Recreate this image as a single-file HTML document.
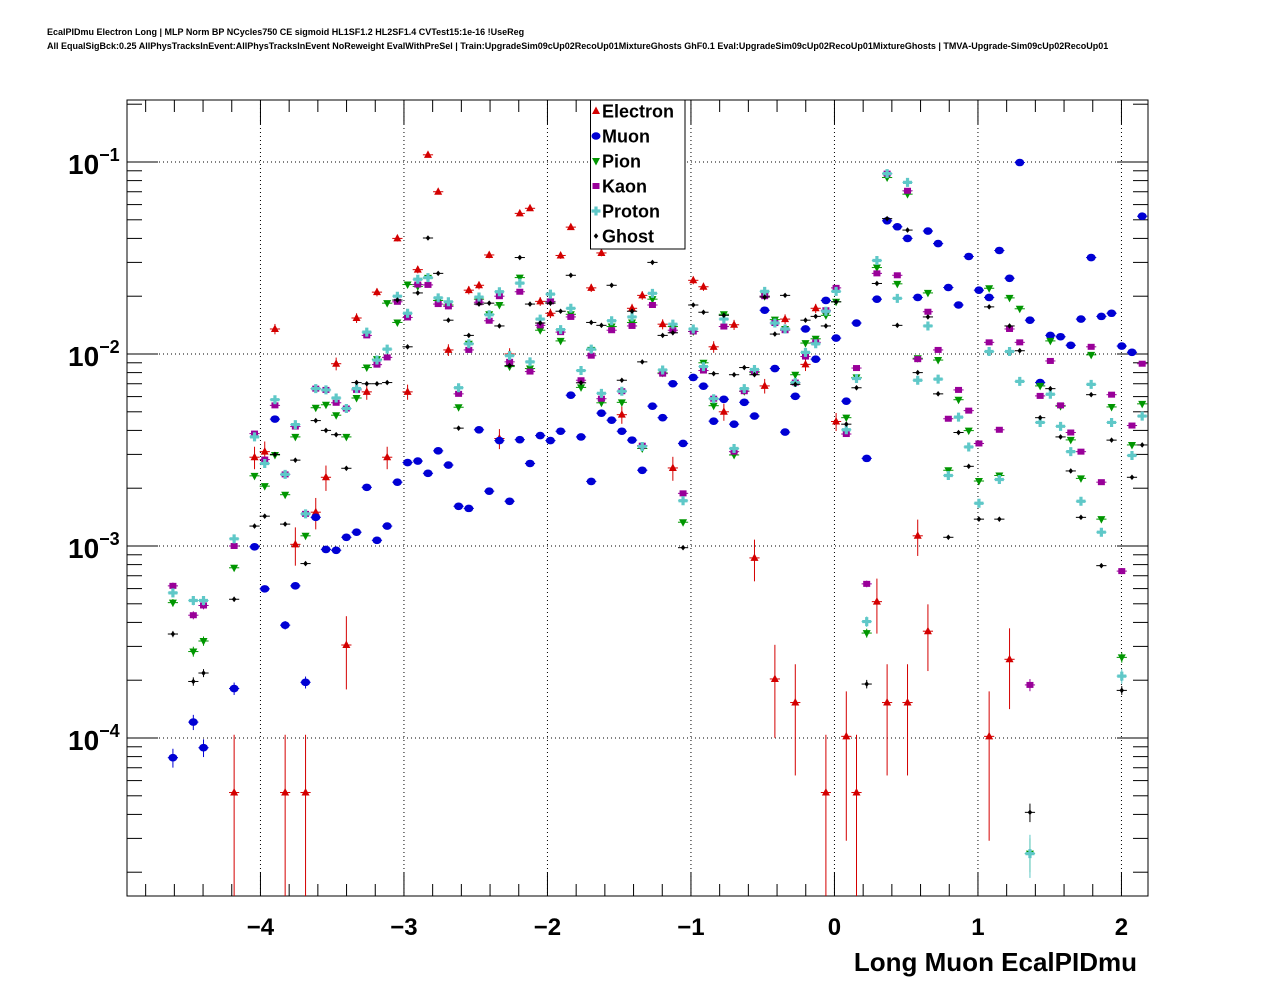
<!DOCTYPE html>
<html><head><meta charset="utf-8"><style>
html,body{margin:0;padding:0;background:#fff;}
svg{display:block;font-family:"Liberation Sans",Arial,sans-serif;}
</style></head><body>
<svg id="c" width="1276" height="996" viewBox="0 0 1276 996" xmlns="http://www.w3.org/2000/svg">
<rect width="1276" height="996" fill="#fff"/>
<text x="47" y="35" font-size="9" font-weight="bold">EcalPIDmu Electron Long | MLP Norm BP NCycles750 CE sigmoid HL1SF1.2 HL2SF1.4 CVTest15:1e-16 !UseReg</text>
<text x="47" y="49" font-size="9" font-weight="bold">All EqualSigBck:0.25 AllPhysTracksInEvent:AllPhysTracksInEvent NoReweight EvalWithPreSel | Train:UpgradeSim09cUp02RecoUp01MixtureGhosts GhF0.1 Eval:UpgradeSim09cUp02RecoUp01MixtureGhosts | TMVA-Upgrade-Sim09cUp02RecoUp01</text>
<g id="grid"></g><g id="axes"></g><g id="marks"></g><g id="legend"></g>
<text x="1137" y="971" font-size="26" font-weight="bold" text-anchor="end">Long Muon EcalPIDmu</text>
</svg>
<script>
// ---- data (bin index 0..99, values) ----
const xTicks = [-4,-3,-2,-1,0,1,2];
const xTickLabels = ["\u22124","\u22123","\u22122","\u22121","0","1","2"];
const yDecades = [-4,-3,-2,-1];
const seriesNames = ["Electron","Muon","Pion","Kaon","Proton","Ghost"];

const elBins = [10,12,13,14,15,16,17,18,19,20,21,22,23,24,25,26,27,28,29,30,31,33,34,35,36,37,38,39,40,41,42,43,45,46,48,49,50,52,53,55,56,57,58,59,61,62,63,64,65,66,67,68,69,70,71,73,74,76,77,78,84,86];
const elVals = [5.2e-5,2.9e-3,3.1e-3,1.35e-2,5.2e-5,1.02e-3,5.2e-5,1.5e-3,2.28e-3,8.9e-3,3.05e-4,1.54e-2,6.35e-3,2.1e-2,2.9e-3,4.0e-2,6.35e-3,2.75e-2,0.109,7.0e-2,1.05e-2,2.15e-2,2.28e-2,3.28e-2,3.63e-3,1.0e-2,5.4e-2,5.74e-2,1.88e-2,1.63e-2,3.26e-2,4.58e-2,2.21e-2,3.36e-2,4.83e-3,1.73e-2,2.02e-2,1.43e-2,2.55e-3,2.42e-2,2.24e-2,1.09e-2,5.0e-3,1.42e-2,8.67e-4,6.82e-3,2.03e-4,1.52e-2,1.53e-4,8.83e-3,1.73e-2,5.2e-5,4.45e-3,1.02e-4,5.2e-5,5.13e-4,1.53e-4,1.53e-4,1.13e-3,3.6e-4,1.02e-4,2.57e-4];

const muBins = [4,6,7,10,12,13,14,15,16,17,18,19,20,21,22,23,24,25,26,27,28,29,30,31,32,33,34,35,36,37,38,39,40,41,42,43,44,45,46,47,48,49,50,51,52,53,54,55,56,57,58,59,60,61,62,63,64,65,66,67,68,69,70,71,72,73,74,75,76,77,78,79,80,81,82,83,84,85,86,87,88,89,90,91,92,93,94,95,96,97,98,99];
const muVals = [7.9e-5,1.21e-4,8.9e-5,1.81e-4,9.9e-4,5.98e-4,4.58e-3,3.87e-4,6.2e-4,1.95e-4,1.41e-3,9.6e-4,9.5e-4,1.11e-3,1.18e-3,2.02e-3,1.07e-3,1.27e-3,2.15e-3,2.72e-3,2.77e-3,2.39e-3,3.13e-3,2.64e-3,1.61e-3,1.57e-3,4.03e-3,1.93e-3,3.54e-3,1.71e-3,3.58e-3,2.69e-3,3.76e-3,3.54e-3,3.96e-3,6.1e-3,3.7e-3,2.17e-3,4.92e-3,4.52e-3,3.96e-3,3.56e-3,2.48e-3,5.35e-3,4.66e-3,7.0e-3,3.42e-3,7.55e-3,6.8e-3,4.47e-3,5.81e-3,4.31e-3,5.6e-3,4.75e-3,1.69e-2,8.4e-3,3.92e-3,6.02e-3,1.35e-2,9.4e-3,1.9e-2,1.21e-2,5.68e-3,1.45e-2,2.86e-3,1.93e-2,4.94e-2,4.6e-2,4.0e-2,1.97e-2,4.37e-2,3.76e-2,2.22e-2,1.8e-2,3.22e-2,2.15e-2,1.97e-2,3.46e-2,2.48e-2,9.94e-2,1.5e-2,7.1e-3,1.25e-2,1.23e-2,1.11e-2,1.52e-2,3.18e-2,1.57e-2,1.63e-2,1.1e-2,1.02e-2,5.22e-2];

const piBins = [4,6,7,10,12,13,14,15,16,17,18,19,20,21,22,23,24,25,26,27,28,29,30,31,32,33,34,35,36,37,38,39,40,41,42,43,44,45,46,47,48,49,50,51,52,53,54,55,56,57,58,59,60,61,62,63,64,65,66,67,68,69,70,71,72,73,74,75,76,77,78,79,80,81,82,83,84,85,86,87,88,89,90,91,92,93,94,95,96,97,98,99];
const piVals = [5.07e-4,2.82e-4,3.2e-4,7.7e-4,2.32e-3,2.05e-3,2.98e-3,1.85e-3,3.7e-3,1.13e-3,5.25e-3,5.44e-3,4.8e-3,3.7e-3,5.9e-3,8.5e-3,9.4e-3,1.84e-2,1.46e-2,2.3e-2,2.25e-2,2.49e-2,1.9e-2,1.8e-2,5.28e-3,1.13e-2,1.93e-2,1.61e-2,1.8e-2,8.6e-3,2.5e-2,8.4e-3,1.33e-2,1.87e-2,1.17e-2,1.61e-2,6.7e-3,1.05e-2,5.57e-3,1.39e-2,5.6e-3,1.46e-2,3.22e-3,1.93e-2,7.97e-3,1.39e-2,1.33e-3,1.31e-2,9.0e-3,5.38e-3,1.61e-2,2.98e-3,6.4e-3,8.0e-3,2.0e-2,1.51e-2,1.35e-2,7.8e-3,1.14e-2,1.2e-2,1.59e-2,1.87e-2,4.66e-3,7.55e-3,3.52e-4,2.82e-2,8.3e-2,2.32e-2,6.8e-2,9.5e-3,2.08e-2,9.3e-3,2.48e-3,5.78e-3,3.99e-3,2.18e-3,2.2e-2,2.33e-3,1.96e-2,1.72e-2,2.5e-5,6.82e-3,1.17e-2,5.35e-3,3.57e-3,2.25e-3,9.9e-3,1.38e-3,5.3e-3,2.63e-4,3.36e-3,5.5e-3];

const kaBins = piBins.slice();
const kaVals = [6.2e-4,4.36e-4,4.9e-4,1.0e-3,3.85e-3,2.82e-3,5.4e-3,2.36e-3,4.19e-3,1.47e-3,6.6e-3,6.5e-3,5.57e-3,5.2e-3,6.5e-3,1.25e-2,8.8e-3,9.6e-3,1.87e-2,1.55e-2,2.3e-2,2.29e-2,1.82e-2,1.77e-2,6.2e-3,1.05e-2,1.86e-2,1.49e-2,2.0e-2,9.1e-3,2.11e-2,8.1e-3,1.41e-2,1.88e-2,1.3e-2,1.56e-2,7.3e-3,9.8e-3,5.85e-3,1.33e-2,6.4e-3,1.4e-2,3.33e-3,1.8e-2,7.9e-3,1.33e-2,1.88e-3,1.31e-2,8.2e-3,5.85e-3,1.39e-2,3.1e-3,6.4e-3,8.1e-3,2.0e-2,1.45e-2,1.33e-2,7.1e-3,9.7e-3,1.15e-2,1.69e-2,2.21e-2,3.83e-3,8.45e-3,6.35e-4,2.63e-2,8.7e-2,2.57e-2,7.08e-2,9.4e-3,1.66e-2,1.05e-2,4.6e-3,6.5e-3,5.07e-3,3.42e-3,1.15e-2,4.03e-3,1.35e-2,1.15e-2,1.89e-4,6.05e-3,9.2e-3,5.4e-3,3.9e-3,3.1e-3,1.09e-2,2.15e-3,6.14e-3,7.4e-4,4.24e-3,8.9e-3];

const prBins = piBins.slice();
const prVals = [5.7e-4,5.2e-4,5.2e-4,1.09e-3,3.7e-3,2.69e-3,5.78e-3,2.36e-3,4.29e-3,1.47e-3,6.6e-3,6.5e-3,5.9e-3,5.2e-3,6.6e-3,1.3e-2,9.3e-3,1.06e-2,2.0e-2,1.63e-2,2.45e-2,2.5e-2,1.96e-2,1.87e-2,6.67e-3,1.13e-2,1.98e-2,1.6e-2,2.11e-2,9.8e-3,2.34e-2,9.1e-3,1.52e-2,2.05e-2,1.34e-2,1.73e-2,8.2e-3,1.06e-2,6.24e-3,1.49e-2,6.4e-3,1.56e-2,3.3e-3,2.07e-2,8.26e-3,1.43e-2,1.72e-3,1.35e-2,8.6e-3,5.85e-3,1.52e-2,3.22e-3,6.6e-3,8.3e-3,2.12e-2,1.45e-2,1.35e-2,7.1e-3,1.02e-2,1.13e-2,1.67e-2,2.12e-2,4.03e-3,7.45e-3,4.04e-4,3.07e-2,8.7e-2,1.95e-2,7.83e-2,7.3e-3,1.4e-2,7.4e-3,2.33e-3,4.69e-3,3.28e-3,1.67e-3,1.03e-2,2.22e-3,1.03e-2,7.2e-3,2.5e-5,4.4e-3,6.17e-3,4.2e-3,3.1e-3,1.71e-3,6.95e-3,1.18e-3,4.4e-3,2.1e-4,2.96e-3,4.75e-3];

const ghBins = piBins.slice();
const ghVals = [3.48e-4,1.97e-4,2.18e-4,5.28e-4,1.27e-3,1.43e-3,3.0e-3,1.3e-3,2.8e-3,8.1e-4,4.5e-3,4.0e-3,3.8e-3,2.54e-3,7.1e-3,7.0e-3,7.0e-3,7.1e-3,1.91e-2,1.09e-2,2.08e-2,4.02e-2,2.63e-2,1.5e-2,4.11e-3,1.25e-2,1.82e-2,1.84e-2,1.4e-2,8.7e-3,3.18e-2,1.82e-2,1.45e-2,1.84e-2,1.67e-2,2.57e-2,7.08e-3,1.46e-2,1.41e-2,2.28e-2,7.3e-3,1.67e-2,9.1e-3,3.0e-2,1.25e-2,1.29e-2,9.8e-4,1.8e-2,1.65e-2,7.9e-3,1.59e-2,7.8e-3,8.5e-3,7.8e-3,1.98e-2,1.27e-2,2.02e-2,6.95e-3,1.5e-2,1.57e-2,1.4e-2,1.87e-2,4.31e-3,6.67e-3,1.91e-4,2.33e-2,5.07e-2,1.41e-2,4.42e-2,8.0e-3,1.56e-2,6.2e-3,1.11e-3,3.9e-3,2.6e-3,1.38e-3,1.76e-2,1.38e-3,1.4e-2,1.04e-2,4.1e-5,4.66e-3,6.6e-3,3.7e-3,2.46e-3,1.41e-3,6.14e-3,7.9e-4,3.56e-3,1.77e-4,2.28e-3,3.36e-3];

// ---- axes ----
const L=127,R=1148,T=100,B=896;
const XMIN=-4.93, XSCALE=143.5, NB=100, BW=0.0711;
const xPix = x => L + (x - XMIN)*XSCALE;
const binX = i => XMIN + (i+0.5)*BW;
const yPix = v => 162 - (Math.log10(v)+1)*192;
const NS="http://www.w3.org/2000/svg";
function mk(tag, attrs, parent){const e=document.createElementNS(NS,tag);for(const k in attrs)e.setAttribute(k,attrs[k]);parent.appendChild(e);return e;}
const grid=document.getElementById('grid'),axes=document.getElementById('axes'),marks=document.getElementById('marks'),leg=document.getElementById('legend');

xTicks.forEach(t=>{const g=mk('line',{x1:xPix(t),x2:xPix(t),y1:T,y2:B,stroke:'#000','stroke-width':1,'stroke-dasharray':'1,3'},grid);

});
yDecades.forEach(d=>{const y=yPix(Math.pow(10,d));const g=mk('line',{x1:L,x2:R,y1:y,y2:y,stroke:'#000','stroke-width':1,'stroke-dasharray':'1,3'},grid);

});

const fr=mk('rect',{x:L,y:T,width:R-L,height:B-T,fill:'none',stroke:'#000','stroke-width':1},axes);



for(let k=-24;k<=11;k++){const x=k*0.2;const px=xPix(x);if(px<L||px>R)continue;
 const major=Math.abs(x-Math.round(x))<1e-6;const len=major?24:12;
 const t1=mk('line',{x1:px,x2:px,y1:B,y2:B-len,stroke:'#000'},axes);
 
 
 const t2=mk('line',{x1:px,x2:px,y1:T,y2:T+len,stroke:'#000'},axes);
 
 }
xTicks.forEach((t,i)=>{const tx=mk('text',{x:xPix(t),y:935,'font-size':24,'font-weight':'bold','text-anchor':'middle'},axes);tx.textContent=xTickLabels[i];

});

for(let d=-5;d<=0;d++){for(let m=1;m<=9;m++){const v=m*Math.pow(10,d);const py=yPix(v);if(py<T||py>B)continue;
 const len=m===1?31:15;
 const a=mk('line',{x1:L,x2:L+len,y1:py,y2:py,stroke:'#000'},axes);
 
 
 const b=mk('line',{x1:R,x2:R-len,y1:py,y2:py,stroke:'#000'},axes);
 
 }}
yDecades.forEach(d=>{const py=yPix(Math.pow(10,d));
 const tx=mk('text',{x:68,y:py+12,'font-size':28,'font-weight':'bold'},axes);
 
 
 tx.textContent='10';
 const sp=mk('tspan',{dy:-13,'font-size':18},tx);sp.textContent='\u2212'+(-d);});

function marker(type,cx,cy,col,parent){
 if(type==='tri')return mk('polygon',{points:`${cx},${cy-4.5} ${cx-4},${cy+3} ${cx+4},${cy+3}`,fill:col},parent);
 if(type==='circ')return mk('ellipse',{cx:cx,cy:cy,rx:4.5,ry:3.8,fill:col},parent);
 if(type==='tridn')return mk('polygon',{points:`${cx-4},${cy-3} ${cx+4},${cy-3} ${cx},${cy+4.5}`,fill:col},parent);
 if(type==='sq')return mk('rect',{x:cx-3.5,y:cy-3,width:7,height:6,fill:col},parent);
 if(type==='cross')return mk('path',{d:`M${cx-1.6},${cy-4.5}h3.2v2.9h2.9v3.2h-2.9v2.9h-3.2v-2.9h-2.9v-3.2h2.9z`,fill:col},parent);
 return mk('polygon',{points:`${cx},${cy-2.8} ${cx+2.3},${cy} ${cx},${cy+2.8} ${cx-2.3},${cy}`,fill:col},parent);
}
const seriesDefs=[
 {name:'electron',bins:elBins,vals:elVals,type:'tri',col:'#d40000',unit:5.2e-5},
 {name:'muon',bins:muBins,vals:muVals,type:'circ',col:'#0000d4',unit:1e-6},
 {name:'pion',bins:piBins,vals:piVals,type:'tridn',col:'#009600',unit:1e-6},
 {name:'kaon',bins:kaBins,vals:kaVals,type:'sq',col:'#990099',unit:1e-6},
 {name:'proton',bins:prBins,vals:prVals,type:'cross',col:'#5fc8c8',unit:1.6e-6},
 {name:'ghost',bins:ghBins,vals:ghVals,type:'dia',col:'#000',unit:5e-7}];
const clip=mk('clipPath',{id:'pc'},document.getElementById('c'));mk('rect',{x:L,y:T,width:R-L,height:B-T},clip);
marks.setAttribute('clip-path','url(#pc)');
seriesDefs.forEach(s=>{
 const g=mk('g',{},marks);
 
 
 s.bins.forEach((b,j)=>{const v=s.vals[j];const cx=xPix(binX(b)),cy=yPix(v);
  const err=v*Math.sqrt(s.unit/v);
  const lo=v-err>0?yPix(v-err):B+10,hi=yPix(v+err);
  const hb=BW*XSCALE/2;
  mk('line',{x1:cx-hb,x2:cx+hb,y1:cy,y2:cy,stroke:s.col,'stroke-width':1},g);
  mk('line',{x1:cx,x2:cx,y1:hi,y2:lo,stroke:s.col,'stroke-width':1},g);
  const m=marker(s.type,cx,cy,s.col,g);
  
  
 });
});

const lb=mk('rect',{x:590.5,y:100,width:94.5,height:149,fill:'#fff',stroke:'#000','stroke-width':1},leg);


seriesDefs.forEach((s,i)=>{const y=111+i*25;
 const m=marker(s.type,596,y,s.col,leg);
 
 
 const t=mk('text',{x:602,y:y+6.5,'font-size':18,'font-weight':'bold'},leg);t.textContent=seriesNames[i];
 
 });
</script>
</body></html>
